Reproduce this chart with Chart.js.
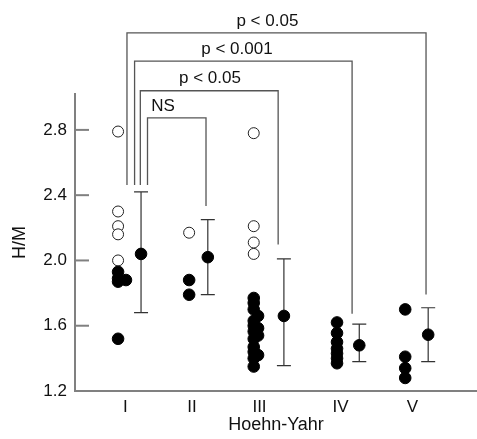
<!DOCTYPE html>
<html>
<head>
<meta charset="utf-8">
<script src="https://cdn.jsdelivr.net/npm/chart.js@4.4.1/dist/chart.umd.min.js"></script>
<style>
    html, body { margin: 0; padding: 0; background: #fff; }
</style>
</head>
<body>
<canvas id="hoehn-yahr" width="477" height="439"></canvas>
<script>
'use strict';

// Hoehn-Yahr stages and where they sit on the x scale
const stages = ['I', 'II', 'III', 'IV', 'V'];
const stagePos = [1, 1.93, 2.87, 4, 5];
const dotX = [0.9, 1.89, 2.79, 3.95, 4.9];
const sideX = [1.01, 1.89, 2.85, 3.95, 4.9];
const barX = [1.22, 2.15, 3.21, 4.26, 5.22];

// individual H/M ratios (open = one kind of patient, filled = the other)
const openI = [2.79, 2.30, 2.21, 2.16, 2.00];
const filledI = [1.93, 1.89, 1.87, 1.52];
const filledISide = [1.88];
const openII = [2.17];
const filledII = [1.88, 1.79];
const openIII = [2.78, 2.21, 2.11, 2.04];
const filledIII = [1.77, 1.74, 1.70, 1.63, 1.60, 1.565, 1.52, 1.47, 1.44, 1.40, 1.35];
const filledIIISide = [1.66, 1.585, 1.54, 1.42];
const filledIV = [1.62, 1.555, 1.50, 1.46, 1.43, 1.40, 1.37];
const filledV = [1.70, 1.41, 1.34, 1.28];

// group mean and SD range
const means = [2.04, 2.02, 1.66, 1.48, 1.545];
const sdHigh = [2.42, 2.25, 2.01, 1.61, 1.71];
const sdLow = [1.68, 1.79, 1.355, 1.38, 1.38];

// comparison brackets (stage I against the others)
const bracketText = ['NS', 'p < 0.05', 'p < 0.001', 'p < 0.05'];
const bracketLeft = [1.31, 1.21, 1.13, 1.024];
const bracketRight = [2.125, 3.13, 4.16, 5.19];
const bracketTop = [2.874, 3.04, 3.222, 3.394];
const bracketLeftEnd = [2.463, 2.463, 2.463, 2.463];
const bracketRightEnd = [2.334, 2.098, 1.674, 1.791];
const bracketTextX = [1.526, 2.18, 2.556, 2.98];

const yTicks = [1.2, 1.6, 2.0, 2.4, 2.8];

const FONT = '"Liberation Sans", Arial, Helvetica, sans-serif';
const INK = '#111';
const AXIS = '#808080';

let points = function (xs, ys) {
    return ys.map(y => ({x: xs, y: y}));
};

let openData = []
    .concat(points(dotX[0], openI))
    .concat(points(dotX[1], openII))
    .concat(points(dotX[2], openIII));

let filledData = []
    .concat(points(dotX[0], filledI))
    .concat(points(sideX[0], filledISide))
    .concat(points(dotX[1], filledII))
    .concat(points(dotX[2], filledIII))
    .concat(points(sideX[2], filledIIISide))
    .concat(points(dotX[3], filledIV))
    .concat(points(dotX[4], filledV));

let meanData = means.map((m, i) => ({x: barX[i], y: m}));

// SD whiskers with caps, drawn under the mean dots
const errorBars = {
    id: 'errorBars',
    beforeDatasetsDraw(chart) {
        let ctx = chart.ctx;
        let xs = chart.scales.x, ys = chart.scales.y;
        ctx.save();
        ctx.strokeStyle = '#333';
        ctx.lineWidth = 1.2;
        means.forEach((m, i) => {
            let px = xs.getPixelForValue(barX[i]);
            let hi = ys.getPixelForValue(sdHigh[i]);
            let lo = ys.getPixelForValue(sdLow[i]);
            ctx.beginPath();
            ctx.moveTo(px, hi);
            ctx.lineTo(px, lo);
            ctx.moveTo(px - 7, hi);
            ctx.lineTo(px + 7, hi);
            ctx.moveTo(px - 7, lo);
            ctx.lineTo(px + 7, lo);
            ctx.stroke();
        });
        ctx.restore();
    },
};

// inward tick marks on the y axis
const innerTicks = {
    id: 'innerTicks',
    afterDraw(chart) {
        let ctx = chart.ctx;
        let ys = chart.scales.y;
        let left = chart.chartArea.left;
        ctx.save();
        ctx.strokeStyle = AXIS;
        ctx.lineWidth = 2;
        yTicks.forEach(v => {
            let py = ys.getPixelForValue(v);
            ctx.beginPath();
            ctx.moveTo(left, py);
            ctx.lineTo(left + 14, py);
            ctx.stroke();
        });
        ctx.restore();
    },
};

// significance brackets and their labels
const brackets = {
    id: 'brackets',
    afterDatasetsDraw(chart) {
        let ctx = chart.ctx;
        let xs = chart.scales.x, ys = chart.scales.y;
        ctx.save();
        ctx.strokeStyle = '#555';
        ctx.lineWidth = 1.3;
        ctx.fillStyle = INK;
        ctx.font = '17px ' + FONT;
        ctx.textAlign = 'center';
        ctx.textBaseline = 'middle';
        bracketText.forEach((t, i) => {
            let x1 = xs.getPixelForValue(bracketLeft[i]);
            let x2 = xs.getPixelForValue(bracketRight[i]);
            let top = ys.getPixelForValue(bracketTop[i]);
            ctx.beginPath();
            ctx.moveTo(x1, ys.getPixelForValue(bracketLeftEnd[i]));
            ctx.lineTo(x1, top);
            ctx.lineTo(x2, top);
            ctx.lineTo(x2, ys.getPixelForValue(bracketRightEnd[i]));
            ctx.stroke();
            ctx.fillText(t, xs.getPixelForValue(bracketTextX[i]), top - 12);
        });
        ctx.restore();
    },
};

let ctx = document.getElementById('hoehn-yahr').getContext('2d');

window.hyChart = new Chart(ctx, {
    type: 'scatter',
    data: {
        datasets: [
            {
                data: filledData,
                pointStyle: 'circle',
                pointRadius: 5.8,
                pointBackgroundColor: '#000',
                pointBorderColor: '#000',
                pointBorderWidth: 1,
            },
            {
                data: openData,
                pointStyle: 'circle',
                pointRadius: 5.5,
                pointBackgroundColor: '#fff',
                pointBorderColor: '#222',
                pointBorderWidth: 1,
            },
            {
                data: meanData,
                pointStyle: 'circle',
                pointRadius: 5.8,
                pointBackgroundColor: '#000',
                pointBorderColor: '#000',
                pointBorderWidth: 1,
            }],
    },
    options: {
        responsive: false,
        animation: false,
        devicePixelRatio: 1,
        layout: {
            autoPadding: false,
            padding: {top: 94, left: 0, right: 0, bottom: 0},
        },
        plugins: {
            legend: {display: false},
            tooltip: {enabled: false},
        },
        scales: {
            x: {
                type: 'linear',
                min: 0.3,
                max: 5.9,
                afterBuildTicks: scale => {
                    scale.ticks = stagePos.map(v => ({value: v}));
                },
                afterFit: scale => {
                    scale.height = 48;
                    scale.paddingLeft = 0;
                    scale.paddingRight = 0;
                },
                ticks: {
                    autoSkip: false,
                    maxRotation: 0,
                    padding: 6,
                    color: INK,
                    font: {family: FONT, size: 17},
                    callback: (v, i) => stages[i],
                },
                grid: {display: false, drawTicks: false},
                border: {display: true, color: AXIS, width: 2},
                title: {
                    display: true,
                    text: 'Hoehn-Yahr',
                    color: INK,
                    font: {family: FONT, size: 18},
                    padding: {top: 0, bottom: 3},
                },
            },
            y: {
                min: 1.2,
                max: 3.02,
                afterBuildTicks: scale => {
                    scale.ticks = yTicks.map(v => ({value: v}));
                },
                afterFit: scale => {
                    scale.width = 75;
                    scale.paddingTop = 0;
                    scale.paddingBottom = 0;
                },
                ticks: {
                    padding: 8,
                    color: INK,
                    font: {family: FONT, size: 17},
                    callback: v => v.toFixed(1),
                },
                grid: {display: false, drawTicks: false},
                border: {display: true, color: AXIS, width: 2},
                title: {
                    display: true,
                    text: 'H/M',
                    color: INK,
                    font: {family: FONT, size: 18},
                    padding: {top: 9, bottom: 0},
                },
            },
        },
    },
    plugins: [errorBars, brackets, innerTicks],
});
</script>
</body>
</html>
